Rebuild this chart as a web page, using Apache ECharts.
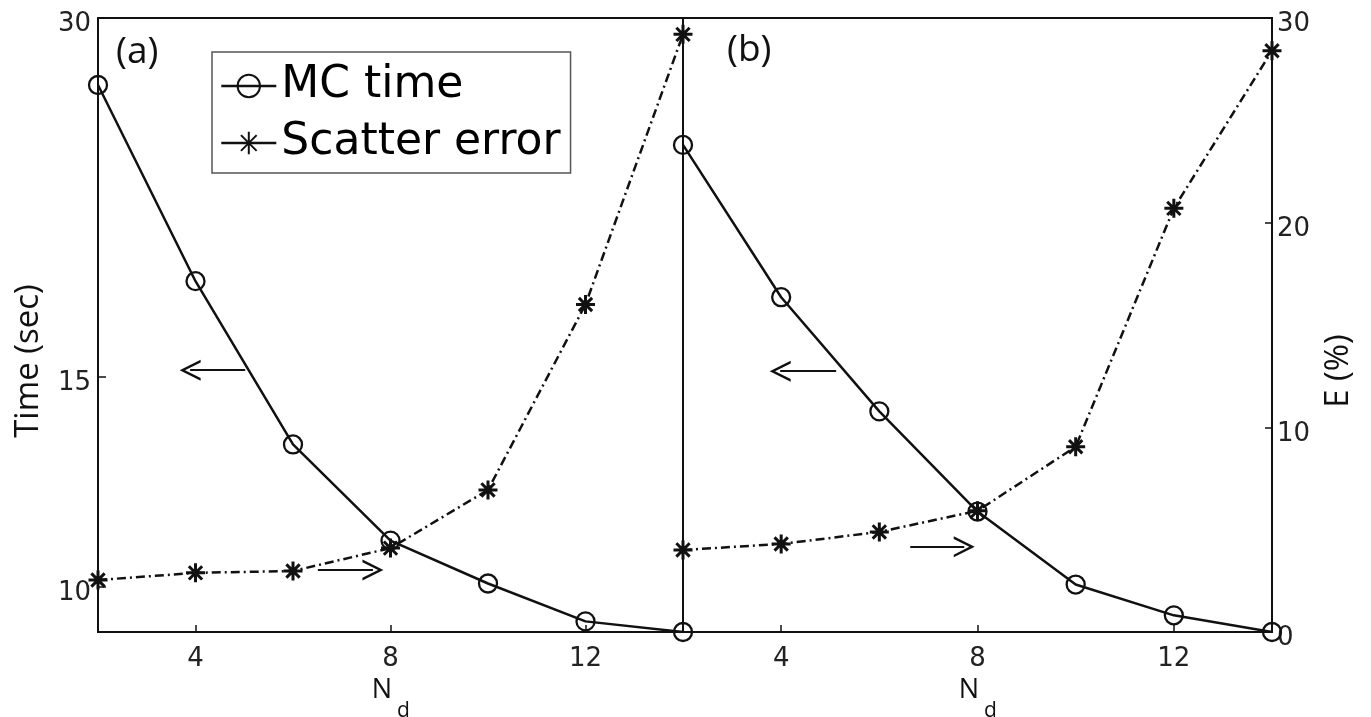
<!DOCTYPE html>
<html>
<head>
<meta charset="UTF-8">
<script src="https://cdn.jsdelivr.net/npm/echarts@6/dist/echarts.min.js"></script>
<style>
	html, body { margin: 0; padding: 0; background: #fff; }
	#chart { width: 1371px; height: 717px; }
</style>
</head>
<body>
<div id="chart"></div>
<script type="text/javascript">
	// N_d on the x axis
	var nd = [2, 4, 6, 8, 10, 12, 14];
	// panel (a): MC time (sec, log axis) and scatter error E (%)
	var timeA = [26.36, 18.05, 13.17, 10.94, 10.07, 9.36, 9.17];
	var errA = [2.54, 2.89, 2.98, 4.1, 6.94, 16.0, 29.2];
	// panel (b)
	var timeB = [23.48, 17.5, 14.04, 11.57, 10.05, 9.47, 9.17];
	var errB = [4.01, 4.3, 4.89, 5.92, 9.05, 20.7, 28.4];
	// tick labels
	var ndTicks = [4, 8, 12];
	var timeTicks = [10, 15, 30];
	// arrows in data units: [x from, x to, y]
	var arrowTimeA = [5.02, 3.89, 15.2];
	var arrowErrA = [6.51, 7.64, 3.03];
	var arrowTimeB = [5.12, 3.98, 15.17];
	var arrowErrB = [6.63, 7.73, 4.16];

	function pairs(xs, ys) {
		var out = [];
		for (var i = 0; i < xs.length; i++) out.push([xs[i], ys[i]]);
		return out;
	}

	var ink = '#111';
	var axisLine = { show: true, lineStyle: { color: ink, width: 2 } };
	var tickFont = { fontFamily: 'DejaVu Sans', fontSize: 26, color: '#222' };
	// y labels sit a little below their ticks, as in the original
	var yTickFont = { fontFamily: 'DejaVu Sans', fontSize: 26, color: '#222', verticalAlign: 'top', lineHeight: 13 };
	var starPath = 'path://M10,0L10,20M0,10L20,10M3,3L17,17M3,17L17,3';
	var headPath = 'path://M0,14L10,0L20,14L17.4,14L10,3.6L2.6,14Z';

	function arrow(a) {
		return {
			silent: true,
			animation: false,
			symbol: ['none', headPath],
			symbolSize: 21,
			label: { show: false },
			lineStyle: { color: ink, width: 1.8, type: 'solid' },
			data: [[{ coord: [a[0], a[2]] }, { coord: [a[1], a[2]] }]]
		};
	}

	function xAxis(i) {
		return {
			type: 'value', gridIndex: i, min: 2, max: 14,
			axisLine: axisLine,
			axisTick: { show: true, inside: true, length: 7, customValues: ndTicks, lineStyle: { color: ink, width: 1.5 } },
			axisLabel: Object.assign({ customValues: ndTicks, margin: 14 }, tickFont),
			splitLine: { show: false },
			// N with a subscript d: two lines, the d pushed right
			name: '{n|N}\n{d|d}', nameLocation: 'middle', nameGap: 42,
			nameTextStyle: {
				rich: {
					n: { fontFamily: 'Open Sans', fontSize: 27, color: ink, lineHeight: 22, padding: [0, 17, 0, 0] },
					d: { fontFamily: 'Open Sans', fontSize: 21, color: ink, lineHeight: 20, padding: [0, 0, 0, 26] }
				}
			}
		};
	}

	var lineTime = { color: ink, width: 2.5 };
	var lineErr = { color: ink, width: 2.5, type: [9, 4, 2, 4] };
	var circleStyle = { color: 'rgba(0,0,0,0)', borderColor: ink, borderWidth: 2.3 };
	var starStyle = { color: ink, borderColor: ink, borderWidth: 3 };

	var chart = echarts.init(document.getElementById('chart'), null, { renderer: 'canvas' });
	chart.setOption({
		animation: false,
		backgroundColor: '#fff',
		title: [
			{ text: '(a)', left: 116, top: 34, padding: 0, textStyle: { fontFamily: 'Open Sans', fontSize: 37, fontWeight: 'normal', color: ink } },
			{ text: '(b)', left: 727, top: 32, padding: 0, textStyle: { fontFamily: 'Open Sans', fontSize: 37, fontWeight: 'normal', color: ink } }
		],
		legend: {
			left: 212, top: 52, orient: 'vertical',
			data: ['MC time', 'Scatter error'],
			itemWidth: 55, itemHeight: 28, itemGap: 11,
			padding: [11, 10, 7, 8],
			borderColor: '#555', borderWidth: 1.5,
			selectedMode: false,
			lineStyle: { type: 'solid', width: 2.6 },
			textStyle: { fontFamily: 'DejaVu Sans', fontSize: 44, color: '#000', lineHeight: 46 }
		},
		grid: [
			{ left: 98, top: 18, width: 585, height: 614, outerBoundsMode: 'none', show: true, borderColor: ink, borderWidth: 2 },
			{ left: 683, top: 18, width: 589, height: 614, outerBoundsMode: 'none', show: true, borderColor: ink, borderWidth: 2 }
		],
		xAxis: [xAxis(0), xAxis(1)],
		yAxis: [
			{
				type: 'log', logBase: 10, gridIndex: 0, position: 'left', min: 9.17, max: 30,
				axisLine: axisLine,
				axisTick: { show: true, inside: true, length: 8, customValues: timeTicks, lineStyle: { color: ink, width: 1.5 } },
				axisLabel: Object.assign({ customValues: timeTicks, margin: 7 }, yTickFont),
				splitLine: { show: false }, minorTick: { show: false },
				name: 'Time (sec)', nameLocation: 'middle', nameGap: 53,
				nameTextStyle: { fontFamily: 'Open Sans', fontSize: 33, color: ink, padding: [0, 72, 0, 0] }
			},
			{
				type: 'value', gridIndex: 0, position: 'right', min: 0, max: 30, interval: 10,
				axisLine: axisLine, axisTick: { show: false }, axisLabel: { show: false }, splitLine: { show: false }
			},
			{
				type: 'log', logBase: 10, gridIndex: 1, position: 'left', min: 9.17, max: 30,
				axisLine: axisLine, axisTick: { show: false }, axisLabel: { show: false }, splitLine: { show: false }
			},
			{
				type: 'value', gridIndex: 1, position: 'right', min: 0, max: 30, interval: 10,
				axisLine: axisLine,
				axisTick: { show: true, inside: true, length: 7, lineStyle: { color: ink, width: 1.5 } },
				axisLabel: Object.assign({ margin: 5 }, yTickFont),
				splitLine: { show: false },
				name: 'E (%)', nameLocation: 'middle', nameGap: 50,
				nameTextStyle: { fontFamily: 'Open Sans', fontSize: 33, color: ink, padding: [0, 92, 0, 0] }
			}
		],
		series: [
			{
				name: 'MC time', type: 'line', xAxisIndex: 0, yAxisIndex: 0,
				data: pairs(nd, timeA), symbol: 'circle', symbolSize: 18,
				lineStyle: lineTime, itemStyle: circleStyle, z: 3,
				markLine: arrow(arrowTimeA)
			},
			{
				name: 'Scatter error', type: 'line', xAxisIndex: 0, yAxisIndex: 1,
				data: pairs(nd, errA), symbol: starPath, symbolSize: 19,
				lineStyle: lineErr, itemStyle: starStyle, z: 3,
				markLine: arrow(arrowErrA)
			},
			{
				name: 'MC time', type: 'line', xAxisIndex: 1, yAxisIndex: 2,
				data: pairs(nd, timeB), symbol: 'circle', symbolSize: 18,
				lineStyle: lineTime, itemStyle: circleStyle, z: 3,
				markLine: arrow(arrowTimeB)
			},
			{
				name: 'Scatter error', type: 'line', xAxisIndex: 1, yAxisIndex: 3,
				data: pairs(nd, errB), symbol: starPath, symbolSize: 19,
				lineStyle: lineErr, itemStyle: starStyle, z: 3,
				markLine: arrow(arrowErrB)
			}
		]
	});
</script>
</body>
</html>
